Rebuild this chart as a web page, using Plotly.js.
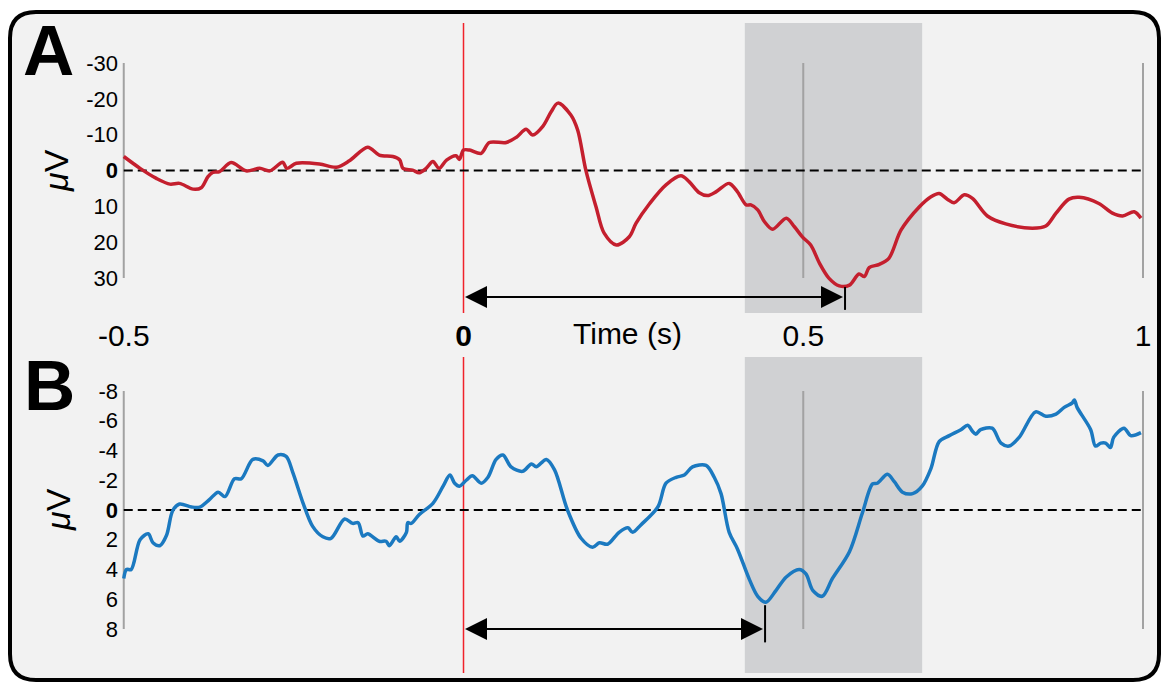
<!DOCTYPE html>
<html>
<head>
<meta charset="utf-8">
<script src="https://cdn.plot.ly/plotly-3.0.1.min.js"></script>
<style>
html,body{margin:0;padding:0;background:#fff;}
#chart{width:1161px;height:682px;}
</style>
</head>
<body>
<div id="chart"></div>
<script>
// ---------------- data ----------------
const timeA = [-0.5,-0.476,-0.452,-0.432,-0.418,-0.398,-0.386,-0.376,-0.369,-0.359,-0.342,-0.320,-0.300,-0.285,-0.266,-0.260,-0.246,-0.212,-0.187,-0.168,-0.141,-0.124,-0.104,-0.094,-0.089,-0.075,-0.065,-0.055,-0.045,-0.036,-0.025,-0.011,-0.006,0.000,0.009,0.026,0.038,0.063,0.078,0.092,0.102,0.117,0.129,0.139,0.158,0.168,0.180,0.195,0.207,0.225,0.244,0.254,0.274,0.298,0.320,0.332,0.347,0.359,0.372,0.391,0.403,0.416,0.423,0.433,0.443,0.455,0.475,0.487,0.499,0.511,0.524,0.538,0.553,0.568,0.582,0.590,0.597,0.612,0.626,0.644,0.671,0.688,0.700,0.712,0.722,0.737,0.749,0.771,0.798,0.837,0.857,0.872,0.891,0.906,0.935,0.955,0.970,0.987,0.997];
const uvA = [-3.9,-0.6,2.2,3.8,3.6,5.2,4.8,1.7,0.5,0.3,-2.2,0.1,-0.6,0.1,-2.3,-0.6,-2.0,-1.8,-0.9,-2.7,-6.5,-4.3,-3.9,-3.0,-0.6,-0.1,0.6,-0.6,-2.5,-0.6,-2.9,-4.1,-3.1,-5.7,-5.7,-4.8,-7.8,-7.8,-9.3,-11.5,-9.9,-12.4,-16.4,-18.8,-15.5,-11.3,-0.1,10.1,17.5,20.8,18.5,14.7,9.2,4.0,1.5,3.1,6.2,7.0,5.9,3.6,5.9,9.6,9.6,11.0,14.3,16.4,13.3,15.7,18.6,20.8,25.9,30.1,32.2,32.0,28.9,29.6,27.1,26.2,24.5,16.6,10.1,7.3,6.4,8.0,9.0,6.8,7.8,12.7,14.9,16.1,15.5,11.9,8.0,7.5,9.2,11.9,12.7,11.5,13.3];

const timeB = [-0.5,-0.496,-0.489,-0.476,-0.464,-0.457,-0.447,-0.437,-0.428,-0.418,-0.400,-0.388,-0.374,-0.361,-0.351,-0.337,-0.327,-0.310,-0.295,-0.288,-0.273,-0.261,-0.251,-0.236,-0.222,-0.207,-0.195,-0.175,-0.163,-0.155,-0.148,-0.141,-0.124,-0.114,-0.109,-0.099,-0.094,-0.084,-0.082,-0.077,-0.065,-0.045,-0.030,-0.020,-0.013,-0.006,0.004,0.013,0.026,0.036,0.048,0.058,0.070,0.087,0.100,0.107,0.122,0.134,0.153,0.173,0.190,0.200,0.212,0.229,0.242,0.249,0.261,0.286,0.298,0.313,0.325,0.337,0.357,0.369,0.379,0.391,0.403,0.421,0.433,0.445,0.460,0.475,0.494,0.504,0.514,0.528,0.543,0.568,0.587,0.602,0.609,0.624,0.634,0.646,0.661,0.675,0.688,0.700,0.715,0.732,0.742,0.749,0.754,0.761,0.778,0.791,0.803,0.818,0.842,0.857,0.872,0.884,0.896,0.899,0.903,0.923,0.930,0.938,0.945,0.952,0.957,0.972,0.982,0.997];
const uvB = [4.6,4.0,4.0,2.0,1.6,2.2,2.4,1.7,0.05,-0.4,-0.2,-0.2,-0.7,-1.2,-0.9,-2.1,-2.1,-3.4,-3.3,-3.0,-3.7,-3.6,-2.5,-0.45,1.1,1.8,1.9,0.6,0.9,0.85,1.75,1.6,2.1,2.1,2.4,1.8,2.1,1.5,0.85,0.9,0.3,-0.45,-1.6,-2.35,-1.8,-1.6,-2.0,-2.3,-1.8,-2.2,-3.4,-3.7,-2.9,-2.6,-3.1,-2.9,-3.4,-2.7,0,1.9,2.5,2.2,2.3,1.5,1.2,1.5,1.0,-0.2,-1.8,-2.2,-2.35,-2.9,-3.0,-2.2,-1.1,1.5,2.6,4.7,5.8,6.2,5.4,4.5,4.0,4.3,5.4,5.8,4.6,2.8,0.2,-1.75,-1.8,-2.4,-1.9,-1.2,-1.1,-1.6,-2.8,-4.6,-5.0,-5.4,-5.7,-5.3,-5.1,-5.4,-5.5,-4.5,-4.3,-4.9,-6.6,-6.3,-6.45,-6.9,-7.2,-7.4,-6.9,-5.4,-4.3,-4.5,-4.5,-4.2,-4.9,-5.5,-5.0,-5.2];

const xTickVals = [-0.5, 0, 0.5, 1];
const xTickText = ['-0.5', '<b>0</b>', '0.5', '1'];
const yTickValsA = [-30, -20, -10, 0, 10, 20, 30];
const yTickTextA = ['-30', '-20', '-10', '<b>0</b>', '10', '20', '30'];
const yTickValsB = [-8, -6, -4, -2, 0, 2, 4, 6, 8];
const yTickTextB = ['-8', '-6', '-4', '-2', '<b>0</b>', '2', '4', '6', '8'];
const windowStart = 0.414, windowEnd = 0.675;   // grey analysis window (s)
const peakA = 0.5585, peakB = 0.4408;           // latency of peak (s)
const gridVals = [-0.5, 0.5, 1];

// ---------------- layout helpers ----------------
const W = 1161, H = 682;
const fx = px => px / W;
const fy = py => 1 - py / H;
const FONT = 'Liberation Sans, Arial, Helvetica, sans-serif';
const RED = '#c41f2e', BLUE = '#1b79c0', GREY = '#a2a2a2', SHADE = '#d0d1d3';

const traces = [
  {x: timeA, y: uvA, xaxis: 'x', yaxis: 'y', mode: 'lines',
   line: {color: RED, width: 3.5, shape: 'spline', smoothing: 0.9}, hoverinfo: 'skip'},
  {x: timeB, y: uvB, xaxis: 'x2', yaxis: 'y2', mode: 'lines',
   line: {color: BLUE, width: 3.5, shape: 'spline', smoothing: 0.9}, hoverinfo: 'skip'}
];

const xr = [-0.53, 1.02];
const xpx = t => 463.5 + 679.5 * t;
const xdom = [fx(xpx(xr[0])), fx(xpx(xr[1]))];

function framePath(x0, y0, x1, y1, r) {
  const P = (a, b) => fx(a) + ',' + fy(b);
  return 'M' + P(x0 + r, y0) + ' L' + P(x1 - r, y0) + ' Q' + P(x1, y0) + ' ' + P(x1, y0 + r) +
    ' L' + P(x1, y1 - r) + ' Q' + P(x1, y1) + ' ' + P(x1 - r, y1) +
    ' L' + P(x0 + r, y1) + ' Q' + P(x0, y1) + ' ' + P(x0, y1 - r) +
    ' L' + P(x0, y0 + r) + ' Q' + P(x0, y0) + ' ' + P(x0 + r, y0) + ' Z';
}

const shapes = [
  {type: 'path', xref: 'paper', yref: 'paper', layer: 'below', path: framePath(10, 12, 1159, 680, 26),
   fillcolor: '#f2f2f2', line: {color: '#000', width: 4}}
];

function panelShapes(xa, ya, yLo, yHi, peak, tickLo, tickHi) {
  shapes.push({type: 'rect', xref: xa, yref: ya + ' domain', x0: windowStart, x1: windowEnd, y0: 0, y1: 1,
    fillcolor: SHADE, line: {width: 0}, layer: 'below'});
  gridVals.forEach(g => shapes.push({type: 'line', xref: xa, yref: ya, x0: g, x1: g, y0: yLo, y1: yHi,
    line: {color: GREY, width: 2}, layer: 'below'}));
  shapes.push({type: 'line', xref: xa, yref: ya, x0: -0.5, x1: 1, y0: 0, y1: 0,
    line: {color: '#000', width: 2, dash: '9px,5px'}, layer: 'below'});
  shapes.push({type: 'line', xref: xa, yref: ya + ' domain', x0: 0, x1: 0, y0: 0, y1: 1,
    line: {color: '#f0222a', width: 1.5}, layer: 'below'});
  shapes.push({type: 'line', xref: xa, yref: ya, x0: peak + 0.003, x1: peak + 0.003, y0: tickLo, y1: tickHi,
    line: {color: '#000', width: 2}});
}
panelShapes('x', 'y', -30, 30, peakA, 32.5, 38.9);
panelShapes('x2', 'y2', -8, 8, peakB, 6.4, 8.9);

function arrow(xa, ya, yv, peak) {
  return {xref: xa, yref: ya, axref: xa, ayref: ya, x: peak, y: yv, ax: 0, ay: yv, text: '',
    showarrow: true, arrowside: 'end+start', arrowhead: 2, startarrowhead: 2,
    arrowsize: 2.2, startarrowsize: 2.2, arrowwidth: 2, arrowcolor: '#000', standoff: 0, startstandoff: 0};
}

const annotations = [
  arrow('x', 'y', 35.3, peakA),
  arrow('x2', 'y2', 8.0, peakB),
  {xref: 'paper', yref: 'paper', x: fx(48), y: fy(50), text: '<b>A</b>', showarrow: false,
   font: {family: FONT, size: 71, color: '#000'}, xanchor: 'center', yanchor: 'middle'},
  {xref: 'paper', yref: 'paper', x: fx(49), y: fy(385), text: '<b>B</b>', showarrow: false,
   font: {family: FONT, size: 71, color: '#000'}, xanchor: 'center', yanchor: 'middle'},
  {xref: 'paper', yref: 'paper', x: fx(56), y: fy(171), text: '<i>μ</i>V', textangle: -90, showarrow: false,
   font: {family: FONT, size: 34, color: '#000'}, xanchor: 'center', yanchor: 'middle'},
  {xref: 'paper', yref: 'paper', x: fx(58), y: fy(510), text: '<i>μ</i>V', textangle: -90, showarrow: false,
   font: {family: FONT, size: 34, color: '#000'}, xanchor: 'center', yanchor: 'middle'},
  {xref: 'paper', yref: 'paper', x: fx(628), y: fy(333), text: 'Time (s)', showarrow: false,
   font: {family: FONT, size: 30, color: '#000'}, xanchor: 'center', yanchor: 'middle'}
];

const yAxisCommon = {anchor: 'free', position: fx(122), showgrid: false, zeroline: false, showline: false,
  ticks: '', ticklabelstandoff: 4, tickfont: {family: FONT, size: 22, color: '#000'}, fixedrange: true};

const layout = {
  width: W, height: H, margin: {l: 0, r: 0, t: 0, b: 0, pad: 0},
  paper_bgcolor: '#ffffff', plot_bgcolor: 'rgba(0,0,0,0)', showlegend: false,
  xaxis: {domain: xdom, range: xr, anchor: 'free', position: fy(315), showgrid: false, zeroline: false,
    showline: false, ticks: '', tickmode: 'array', tickvals: xTickVals, ticktext: xTickText,
    tickfont: {family: FONT, size: 30, color: '#000'}, fixedrange: true},
  yaxis: Object.assign({}, yAxisCommon, {domain: [fy(313), fy(23)], range: [39.77, -41.16],
    tickmode: 'array', tickvals: yTickValsA, ticktext: yTickTextA}),
  xaxis2: {domain: xdom, range: xr, anchor: 'y2', matches: 'x', showgrid: false, zeroline: false,
    showline: false, ticks: '', showticklabels: false, fixedrange: true},
  yaxis2: Object.assign({}, yAxisCommon, {domain: [fy(673), fy(357)], range: [10.958, -10.286],
    tickmode: 'array', tickvals: yTickValsB, ticktext: yTickTextB}),
  shapes: shapes,
  annotations: annotations
};

Plotly.newPlot('chart', traces, layout, {staticPlot: true, displayModeBar: false});
</script>
</body>
</html>
